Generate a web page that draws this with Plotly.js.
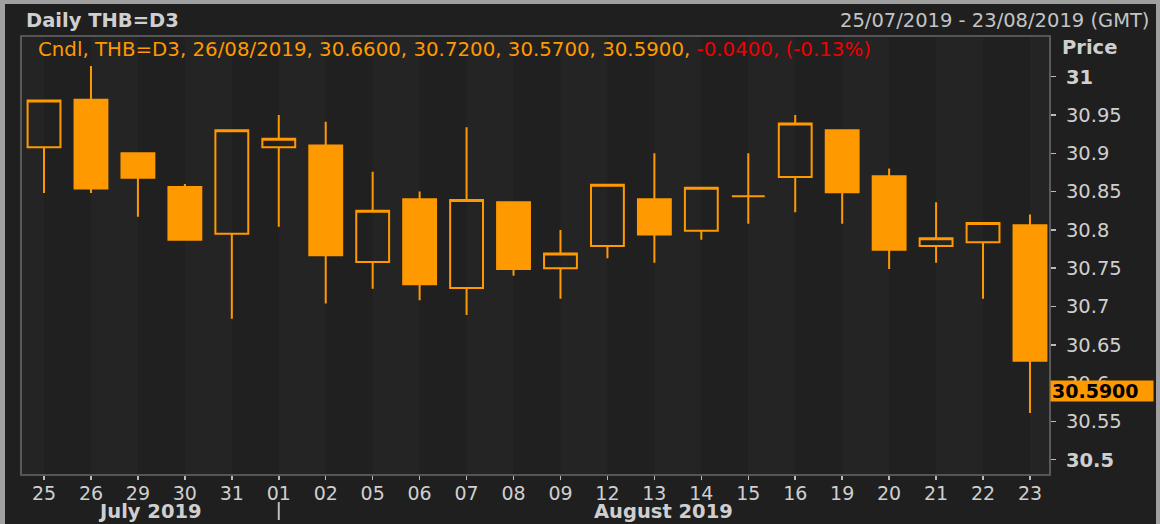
<!DOCTYPE html>
<html>
<head>
<meta charset="utf-8">
<script src="https://cdn.plot.ly/plotly-3.0.1.min.js"></script>
<style>
  html, body { margin: 0; padding: 0; background: #1f1f1f; }
  #chart { width: 1160px; height: 524px; }
</style>
</head>
<body>
<div id="chart"></div>
<script>
// ---- data ----
const dayLabels = ['25','26','29','30','31','01','02','05','06','07','08','09','12','13','14','15','16','19','20','21','22','23'];
const openVals  = [30.908,30.970,30.900,30.856,30.795,30.908,30.910,30.758,30.840,30.724,30.836,30.750,30.779,30.840,30.799,30.844,30.869,30.930,30.870,30.779,30.784,30.806];
const highVals  = [30.969,31.014,30.900,30.860,30.930,30.950,30.941,30.876,30.850,30.934,30.836,30.800,30.859,30.900,30.855,30.900,30.950,30.930,30.880,30.836,30.809,30.820];
const lowVals   = [30.848,30.848,30.817,30.787,30.684,30.804,30.704,30.723,30.708,30.689,30.740,30.710,30.763,30.757,30.787,30.808,30.823,30.808,30.749,30.757,30.710,30.561];
const closeVals = [30.969,30.854,30.868,30.787,30.930,30.919,30.767,30.825,30.729,30.839,30.749,30.769,30.859,30.794,30.855,30.844,30.939,30.849,30.774,30.789,30.809,30.629];
const yTickVals = [30.5,30.55,30.6,30.65,30.7,30.75,30.8,30.85,30.9,30.95,31];
const yTickText = ['<b>30.5</b>','30.55','30.6','30.65','30.7','30.75','30.8','30.85','30.9','30.95','<b>31</b>'];
const monthLabels = ['July 2019', 'August 2019'];
const lastPrice = 30.59;
const headerTitle = 'Daily THB=D3';
const dateRange = '25/07/2019 - 23/08/2019 (GMT)';
const legendMain = 'Cndl, THB=D3, 26/08/2019, 30.6600, 30.7200, 30.5700, 30.5900, ';
const legendChange = '-0.0400, (-0.13%)';

// ---- styling ----
const ORANGE = '#ff9900';
const FONT = 'DejaVu Sans';
const TXT = '#cfcfcf';
const L = 22, R = 1049, T = 37, B = 474, W = 1160, H = 524;
const px = x => (x - L) / (R - L);
const py = y => (B - y) / (B - T);

const trace = {
  type: 'candlestick',
  x: dayLabels,
  open: openVals, high: highVals, low: lowVals, close: closeVals,
  increasing: { line: { color: ORANGE, width: 2 }, fillcolor: 'rgba(0,0,0,0)' },
  decreasing: { line: { color: ORANGE, width: 2 }, fillcolor: ORANGE },
  whiskerwidth: 0,
  hoverinfo: 'skip',
  showlegend: false
};

const shapes = [];
// alternating column stripes
for (let i = -1; i < dayLabels.length; i++) {
  if (i % 2 === 0) {
    shapes.push({ type: 'rect', xref: 'x', yref: 'paper', x0: i, x1: i + 1, y0: 0, y1: 1,
      fillcolor: '#202020', line: { width: 0 }, layer: 'below' });
  }
}
// month separator at first August day
const sepIdx = dayLabels.indexOf('01');
shapes.push({ type: 'line', xref: 'x', yref: 'paper', x0: sepIdx, x1: sepIdx, y0: py(502), y1: py(520),
  line: { color: '#bdbdbd', width: 2 } });
// outer frame bands
shapes.push({ type: 'rect', xref: 'paper', yref: 'paper', x0: px(0), x1: px(W), y0: py(4), y1: py(0), fillcolor: '#a0a0a0', line: { width: 0 } });
shapes.push({ type: 'rect', xref: 'paper', yref: 'paper', x0: px(0), x1: px(5), y0: py(H), y1: py(0), fillcolor: '#a0a0a0', line: { width: 0 } });
shapes.push({ type: 'rect', xref: 'paper', yref: 'paper', x0: px(1156), x1: px(W), y0: py(H), y1: py(0), fillcolor: '#a0a0a0', line: { width: 0 } });

const annotations = [
  { xref: 'paper', yref: 'paper', x: px(24), y: py(20), xanchor: 'left', yanchor: 'middle', showarrow: false,
    text: '<b>' + headerTitle + '</b>', font: { family: FONT, size: 19.5, color: TXT } },
  { xref: 'paper', yref: 'paper', x: px(1151), y: py(20), xanchor: 'right', yanchor: 'middle', showarrow: false,
    text: dateRange, font: { family: FONT, size: 19.5, color: '#c4c4c4' } },
  { xref: 'paper', yref: 'paper', x: px(36), y: py(49), xanchor: 'left', yanchor: 'middle', showarrow: false,
    text: legendMain + '<span style="color:#ee0000">' + legendChange + '</span>',
    font: { family: FONT, size: 19.8, color: ORANGE } },
  { xref: 'paper', yref: 'paper', x: px(1060), y: py(47), xanchor: 'left', yanchor: 'middle', showarrow: false,
    text: '<b>Price</b>', font: { family: FONT, size: 19.5, color: TXT } },
  { xref: 'paper', yref: 'paper', x: px(150), y: py(511), xanchor: 'center', yanchor: 'middle', showarrow: false,
    text: '<b>' + monthLabels[0] + '</b>', font: { family: FONT, size: 19.5, color: TXT } },
  { xref: 'paper', yref: 'paper', x: px(663), y: py(511), xanchor: 'center', yanchor: 'middle', showarrow: false,
    text: '<b>' + monthLabels[1] + '</b>', font: { family: FONT, size: 19.5, color: TXT } },
  { xref: 'paper', yref: 'y', x: px(1050), y: lastPrice, xanchor: 'left', yanchor: 'middle', showarrow: false,
    text: '<b>' + lastPrice.toFixed(4) + '</b>', align: 'left', bgcolor: ORANGE, borderpad: 1, width: 100, height: 18,
    font: { family: FONT, size: 19, color: '#000000' } }
];

const layout = {
  width: W, height: H,
  margin: { l: L, r: W - R, t: T, b: H - B, pad: 0 },
  paper_bgcolor: '#1f1f1f',
  plot_bgcolor: '#242424',
  showlegend: false,
  boxgap: 0.3, boxgroupgap: 0,
  xaxis: {
    type: 'category', range: [-0.469, dayLabels.length - 1 + 0.405],
    rangeslider: { visible: false },
    showgrid: false, zeroline: false,
    showline: true, mirror: true, linecolor: '#555555', linewidth: 2,
    ticks: 'outside', ticklen: 4, tickwidth: 1.5, tickcolor: '#bbbbbb',
    ticklabelstandoff: -3,
    tickfont: { family: FONT, size: 19, color: TXT },
    fixedrange: true
  },
  yaxis: {
    side: 'right', range: [30.4813, 31.0518],
    tickvals: yTickVals, ticktext: yTickText,
    showgrid: false, zeroline: false,
    showline: true, mirror: true, linecolor: '#5a5a5a', linewidth: 2,
    ticks: 'outside', ticklen: 5, tickwidth: 1.5, tickcolor: '#bbbbbb',
    ticklabelstandoff: 6,
    tickfont: { family: FONT, size: 19.5, color: TXT },
    fixedrange: true
  },
  shapes: shapes,
  annotations: annotations,
  hovermode: false
};

Plotly.newPlot('chart', [trace], layout, { displayModeBar: false, staticPlot: true });
</script>
</body>
</html>
